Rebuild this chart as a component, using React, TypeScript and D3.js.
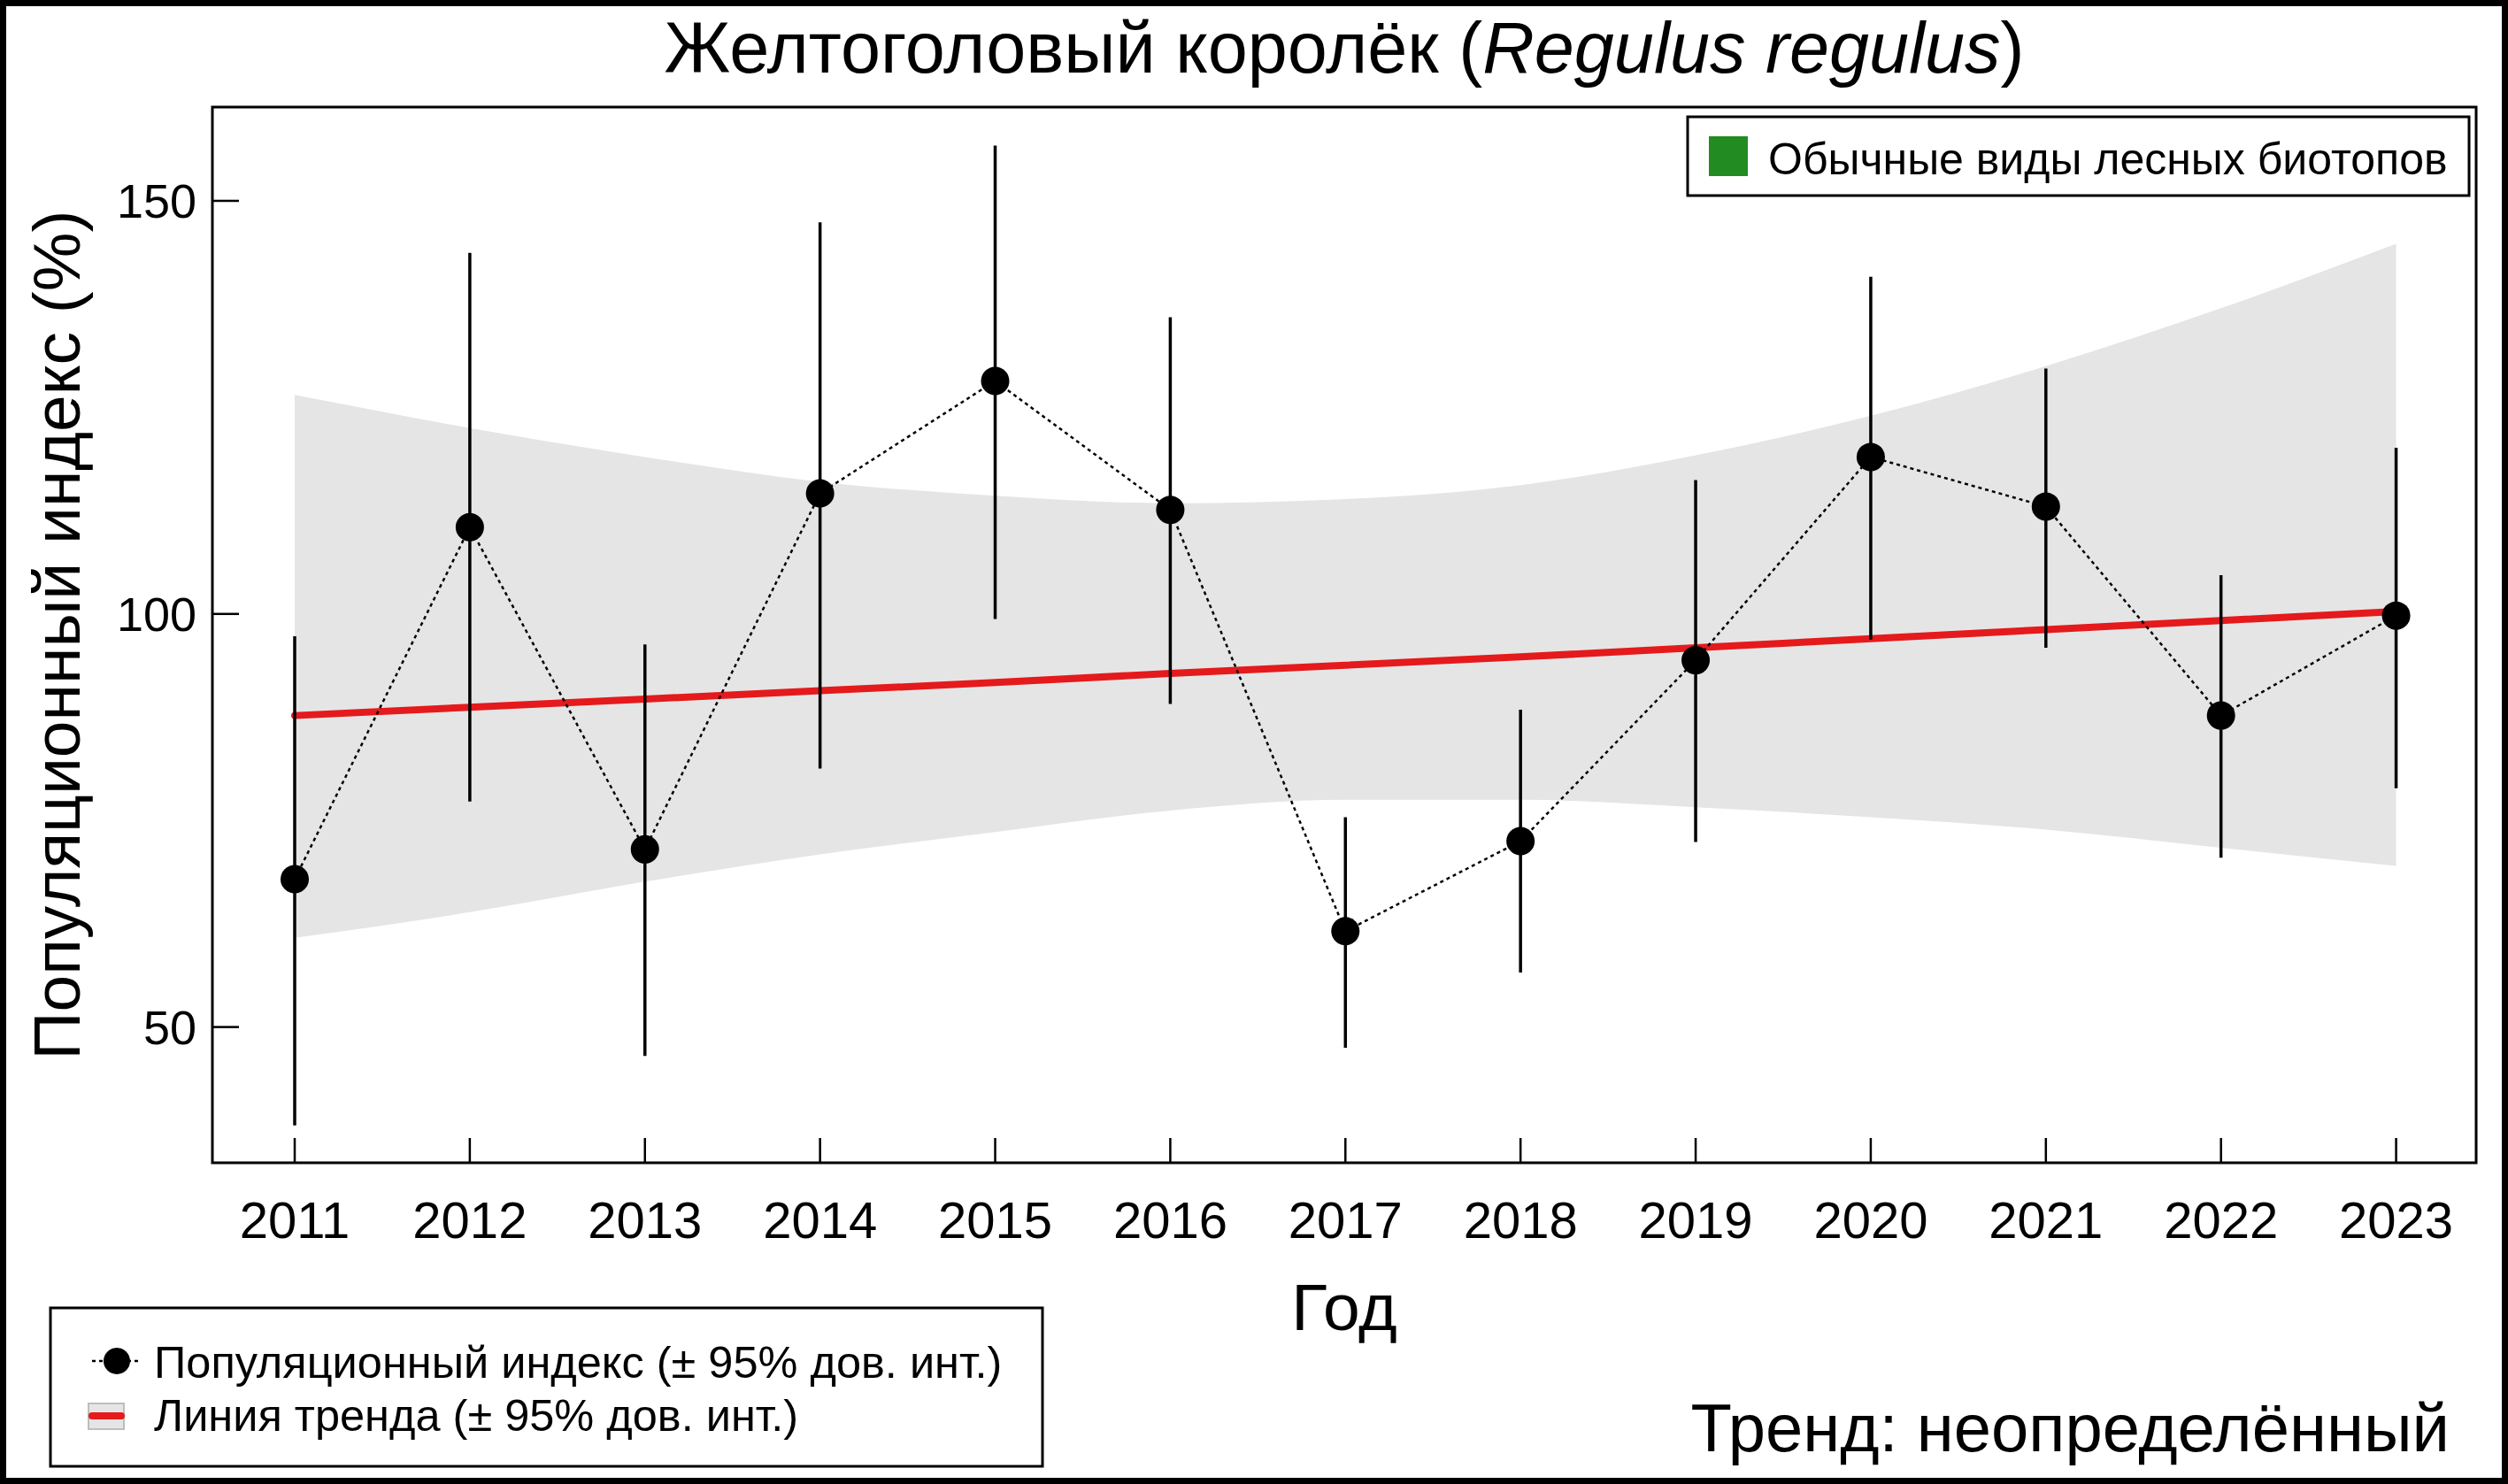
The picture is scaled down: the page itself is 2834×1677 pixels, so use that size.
import React from "react";
import * as d3 from "d3";

const years = [2011, 2012, 2013, 2014, 2015, 2016, 2017, 2018, 2019, 2020, 2021, 2022, 2023];
const indexValues = [67.9, 110.5, 71.5, 114.6, 128.2, 112.6, 61.6, 72.5, 94.4, 119.0, 113.0, 87.7, 99.8];
const ciLow = [38.1, 77.3, 46.5, 81.3, 99.4, 89.1, 47.5, 56.6, 72.4, 96.9, 95.9, 70.5, 78.9];
const ciHigh = [97.3, 143.7, 96.3, 147.4, 156.7, 135.9, 75.4, 88.4, 116.2, 140.8, 129.7, 104.7, 120.1];
const trendValues = [87.7, 88.7, 89.7, 90.7, 91.7, 92.8, 93.8, 94.8, 95.9, 97.0, 98.1, 99.2, 100.3];
const bandLow = [60.8, 63.9, 67.6, 70.9, 73.6, 76.2, 77.5, 77.5, 76.6, 75.4, 73.9, 71.7, 69.5];
const bandHigh = [126.5, 122.5, 119.0, 116.0, 114.3, 113.4, 113.9, 115.6, 119.2, 124.0, 130.0, 137.0, 144.8];
const yTicks = [50, 100, 150];

const W = 2834;
const H = 1677;
const FONT = "'Liberation Sans', Arial, sans-serif";

const plot = { left: 240, right: 2798, top: 121, bottom: 1314 };

export default function App() {
  const x = d3.scaleLinear().domain([2010.53, 2023.457]).range([plot.left, plot.right]);
  const y = d3.scaleLinear().domain([33.57, 161.35]).range([plot.bottom, plot.top]);

  const rows = years.map((yr, i) => ({
    yr,
    v: indexValues[i],
    lo: ciLow[i],
    hi: ciHigh[i],
    t: trendValues[i],
    bl: bandLow[i],
    bh: bandHigh[i],
  }));

  const band = d3
    .area<any>()
    .x((d) => x(d.yr))
    .y0((d) => y(d.bl))
    .y1((d) => y(d.bh))
    .curve(d3.curveMonotoneX);
  const trendLine = d3
    .line<any>()
    .x((d) => x(d.yr))
    .y((d) => y(d.t));
  const indexLine = d3
    .line<any>()
    .x((d) => x(d.yr))
    .y((d) => y(d.v));

  const cx = (plot.left + plot.right) / 2;
  const cy = (plot.top + plot.bottom) / 2;

  return (
    <div style={{ position: "absolute", left: 0, top: 0 }}>
      <svg width={W} height={H} style={{ display: "block" }} fontFamily={FONT}>
        <rect x={0} y={0} width={W} height={H} fill="#fff" />

        {/* title */}
        <text x={cx} y={82} fontSize={81} textAnchor="middle">
          Желтоголовый королёк (<tspan fontStyle="italic">Regulus regulus</tspan>)
        </text>

        {/* trend confidence band */}
        <path d={band(rows) || ""} fill="#e5e5e5" />
        <path
          d={trendLine(rows) || ""}
          fill="none"
          stroke="#e41a1c"
          strokeWidth={8}
          strokeLinecap="round"
        />

        {/* error bars */}
        {rows.map((d) => (
          <line
            key={"e" + d.yr}
            x1={x(d.yr)}
            x2={x(d.yr)}
            y1={y(d.lo)}
            y2={y(d.hi)}
            stroke="#000"
            strokeWidth={3.5}
          />
        ))}
        <path
          d={indexLine(rows) || ""}
          fill="none"
          stroke="#000"
          strokeWidth={2.5}
          strokeDasharray="4 4"
        />
        {rows.map((d) => (
          <circle key={"p" + d.yr} cx={x(d.yr)} cy={y(d.v)} r={16} fill="#000" />
        ))}

        {/* plot box */}
        <rect
          x={plot.left}
          y={plot.top}
          width={plot.right - plot.left}
          height={plot.bottom - plot.top}
          fill="none"
          stroke="#000"
          strokeWidth={3}
        />

        {/* y axis */}
        {yTicks.map((t) => (
          <g key={"y" + t}>
            <line x1={plot.left} x2={plot.left + 30} y1={y(t)} y2={y(t)} stroke="#000" strokeWidth={2.5} />
            <text x={222} y={y(t) + 19} fontSize={54} textAnchor="end">
              {t}
            </text>
          </g>
        ))}
        <text
          transform={`translate(90,${cy}) rotate(-90)`}
          fontSize={75}
          textAnchor="middle"
        >
          Популяционный индекс (%)
        </text>

        {/* x axis */}
        {years.map((yr) => (
          <g key={"x" + yr}>
            <line x1={x(yr)} x2={x(yr)} y1={plot.bottom} y2={plot.bottom - 28} stroke="#000" strokeWidth={2.5} />
            <text x={x(yr)} y={1399} fontSize={58} textAnchor="middle">
              {yr}
            </text>
          </g>
        ))}
        <text x={cx} y={1503} fontSize={75} textAnchor="middle">
          Год
        </text>

        {/* habitat legend */}
        <rect x={1907} y={132} width={883} height={89} fill="#fff" stroke="#000" strokeWidth={3} />
        <rect x={1931} y={154} width={44} height={45} fill="#228b22" />
        <text x={1998} y={197} fontSize={50}>
          Обычные виды лесных биотопов
        </text>

        {/* series legend */}
        <rect x={57} y={1478} width={1121} height={179} fill="#fff" stroke="#000" strokeWidth={3} />
        <line x1={104} x2={158} y1={1538} y2={1538} stroke="#000" strokeWidth={2.5} strokeDasharray="4 4" />
        <circle cx={132} cy={1538} r={15} fill="#000" />
        <text x={174} y={1557} fontSize={50.5}>
          Популяционный индекс (± 95% дов. инт.)
        </text>
        <rect x={100} y={1586} width={40} height={29} fill="#e5e5e5" stroke="#bdbdbd" strokeWidth={2} />
        <line x1={104} x2={137} y1={1600} y2={1600} stroke="#e41a1c" strokeWidth={8} strokeLinecap="round" />
        <text x={174} y={1617} fontSize={50.5}>
          Линия тренда (± 95% дов. инт.)
        </text>

        <text x={2768} y={1640} fontSize={76} textAnchor="end">
          Тренд: неопределённый
        </text>

        {/* outer frame */}
        <rect x={3} y={3} width={W - 6} height={H - 6} fill="none" stroke="#000" strokeWidth={8} />
      </svg>
    </div>
  );
}
